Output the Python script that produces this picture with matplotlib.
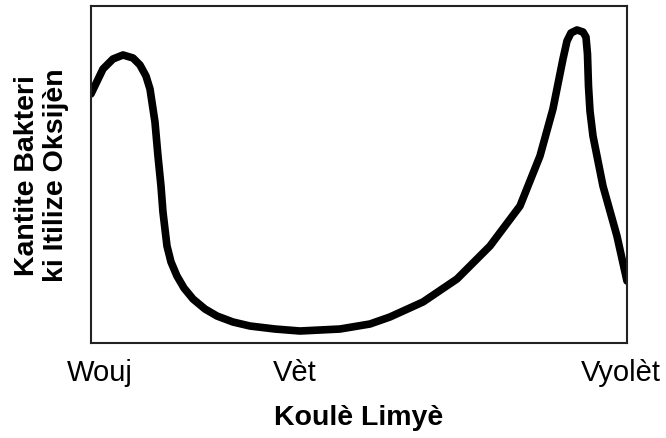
import matplotlib.pyplot as plt

plt.rcParams['font.family'] = ['Liberation Sans', 'DejaVu Sans']

# curve (arbitrary units, 0-100 both ways)
light = [0, 2.24, 4.10, 5.97, 7.84, 9.14, 10.26, 11.01, 11.94, 12.50, 13.06,
         13.43, 14.18, 14.93, 16.04, 17.35, 19.03, 21.27, 23.51, 26.49, 29.66,
         34.33, 38.99, 46.46, 52.05, 55.78, 61.94, 68.28, 74.44, 80.04, 83.77,
         86.19, 88.06, 88.81, 89.55, 90.67, 91.79, 92.35, 92.63, 92.82, 93.10,
         93.66, 95.52, 98.13, 100]
bacteria = [73.89, 81.31, 84.27, 85.46, 84.57, 82.49, 79.23, 75.37, 65.58, 55.49,
            46.59, 38.87, 28.78, 24.04, 19.88, 16.32, 13.06, 10.09, 8.01, 6.23,
            5.04, 4.15, 3.56, 4.15, 5.64, 7.72, 12.17, 18.99, 28.78, 40.65, 55.49,
            69.44, 84.27, 89.61, 91.99, 92.88, 92.28, 90.80, 85.76, 76.26, 68.84,
            61.42, 46.59, 31.75, 18.40]

tick_pos = [1.6, 38.1, 98.9]
tick_labels = ['Wouj', 'Vèt', 'Vyolèt']

fig = plt.figure(figsize=(6.66, 4.39), dpi=100)
ax = fig.add_axes([0.1366, 0.2164, 0.8048, 0.7677])

ax.plot(light, bacteria, color='black', lw=5.5, solid_joinstyle='round',
        solid_capstyle='round')

ax.set_xlim(0, 100)
ax.set_ylim(0, 100)
ax.set_xticks(tick_pos)
ax.set_xticklabels(tick_labels, fontsize=21)
ax.set_yticks([])
ax.tick_params(axis='x', length=0, pad=11)
for s in ax.spines.values():
    s.set_linewidth(1.5)
    s.set_color('#222222')

ax.set_xlabel('Koulè Limyè', fontsize=20.5, fontweight='bold', labelpad=13)
ax.set_ylabel('Kantite Bakteri\nki Itilize Oksijèn', fontsize=20.5,
              fontweight='bold', labelpad=16, linespacing=1.15)

fig.savefig('out.png', dpi=100)
